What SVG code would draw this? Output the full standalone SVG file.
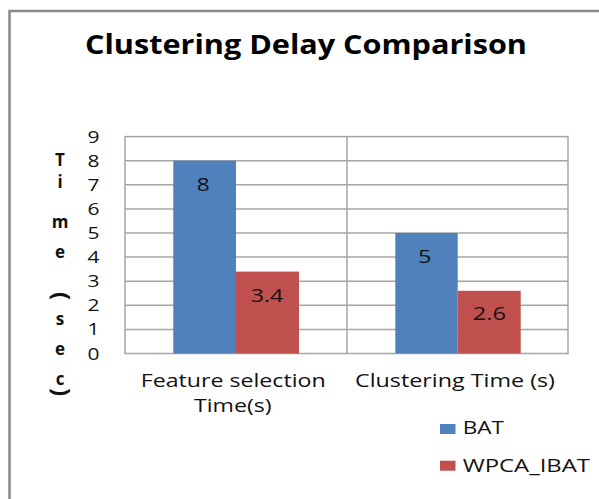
<svg xmlns="http://www.w3.org/2000/svg" width="599" height="499" viewBox="0 0 599 499">
<style>
text{font-family:"Open Sans","Liberation Sans",sans-serif;fill:#111}
.title{font-size:26px;font-weight:bold;fill:#000}
.tick{font-size:17px;text-anchor:middle}
.lab{font-size:18px}
.ax{font-size:17px;font-weight:bold;text-anchor:middle}
.par{font-size:24px;font-weight:bold}
.grid{stroke:#a6a6a6;stroke-width:1.5;fill:none}
.blue{fill:#4F81BD}
.red{fill:#C0504D}
</style>
<rect x="0" y="0" width="599" height="499" fill="#fff"/>
<path d="M9.5 499 V11 H599" fill="none" stroke="#888" stroke-width="2.5"/>
<g id="title"><text class="title" x="85" y="54" textLength="442" lengthAdjust="spacingAndGlyphs">Clustering Delay Comparison</text></g>
<g id="grid">
<rect class="grid" x="125" y="136.6" width="443" height="216.9"/>
<path class="grid" d="M125 160.7H568M125 184.8H568M125 208.9H568M125 233H568M125 257.1H568M125 281.2H568M125 305.3H568M125 329.4H568M347 136.6V353.5"/>
</g>
<g id="bars">
<rect class="blue" x="173.3" y="160.7" width="62.7" height="192.8"/>
<rect class="red" x="236" y="271.6" width="63" height="81.9"/>
<rect class="blue" x="395.3" y="233" width="62.4" height="120.5"/>
<rect class="red" x="457.7" y="290.8" width="63" height="62.7"/>
</g>
<g id="bar-labels">
<text class="lab" x="196.7" y="190.7" textLength="13" lengthAdjust="spacingAndGlyphs">8</text>
<text class="lab" x="250.7" y="301.7" textLength="32.6" lengthAdjust="spacingAndGlyphs">3.4</text>
<text class="lab" x="418" y="262.7" textLength="13.5" lengthAdjust="spacingAndGlyphs">5</text>
<text class="lab" x="472.7" y="320" textLength="33.3" lengthAdjust="spacingAndGlyphs">2.6</text>
</g>
<g id="y-ticks">
<text class="tick" x="93.5" y="142.6" textLength="12" lengthAdjust="spacingAndGlyphs">9</text>
<text class="tick" x="93.5" y="166.7" textLength="12" lengthAdjust="spacingAndGlyphs">8</text>
<text class="tick" x="93.5" y="190.8" textLength="12" lengthAdjust="spacingAndGlyphs">7</text>
<text class="tick" x="93.5" y="214.9" textLength="12" lengthAdjust="spacingAndGlyphs">6</text>
<text class="tick" x="93.5" y="239" textLength="12" lengthAdjust="spacingAndGlyphs">5</text>
<text class="tick" x="93.5" y="263.1" textLength="12" lengthAdjust="spacingAndGlyphs">4</text>
<text class="tick" x="93.5" y="287.2" textLength="12" lengthAdjust="spacingAndGlyphs">3</text>
<text class="tick" x="93.5" y="311.3" textLength="12" lengthAdjust="spacingAndGlyphs">2</text>
<text class="tick" x="93.5" y="335.4" textLength="12" lengthAdjust="spacingAndGlyphs">1</text>
<text class="tick" x="93.5" y="359.5" textLength="12" lengthAdjust="spacingAndGlyphs">0</text>
</g>
<g id="y-title">
<text class="ax" x="60" y="166">T</text>
<text class="ax" x="60" y="188">i</text>
<text class="ax" x="60" y="228">m</text>
<text class="ax" x="60" y="258">e</text>
<text class="par" x="53" y="292" rotate="90">(</text>
<text class="ax" x="60" y="325">s</text>
<text class="ax" x="60" y="355">e</text>
<text class="ax" x="60" y="385">c</text>
<text class="par" x="53" y="388" rotate="90">)</text>
</g>
<g id="x-labels">
<text class="lab" x="140.7" y="387" textLength="185" lengthAdjust="spacingAndGlyphs">Feature selection</text>
<text class="lab" x="194" y="411.5" textLength="77.7" lengthAdjust="spacingAndGlyphs">Time(s)</text>
<text class="lab" x="355" y="387" textLength="200" lengthAdjust="spacingAndGlyphs">Clustering Time (s)</text>
</g>
<g id="legend">
<rect class="blue" x="440" y="424" width="15.5" height="10"/>
<text class="lab" x="462.7" y="434" textLength="41.3" lengthAdjust="spacingAndGlyphs">BAT</text>
<rect class="red" x="440" y="460.7" width="15.5" height="10"/>
<text class="lab" x="462.7" y="471.5" textLength="127.3" lengthAdjust="spacingAndGlyphs">WPCA_IBAT</text>
</g>
</svg>
